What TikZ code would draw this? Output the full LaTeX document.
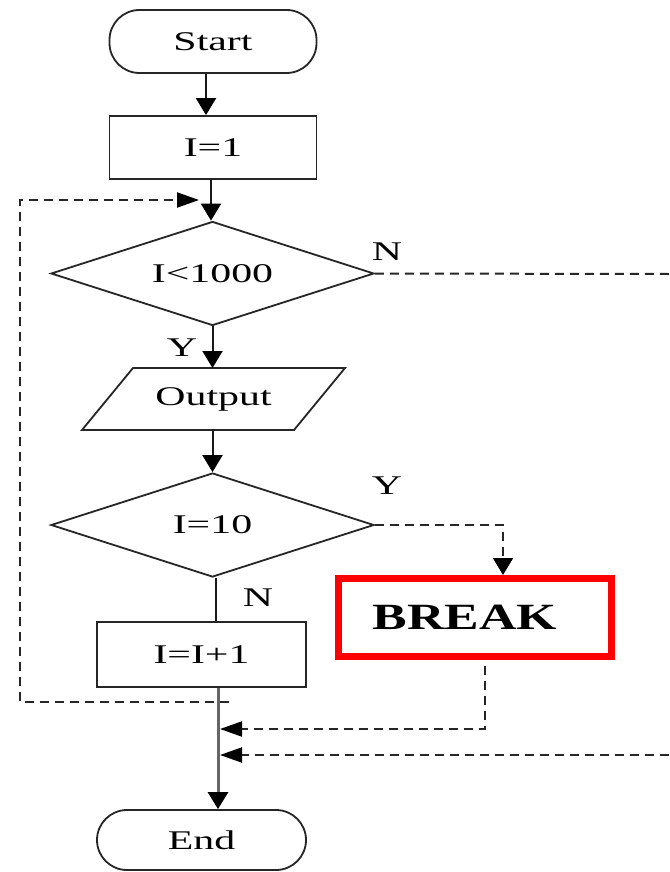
\documentclass[tikz,border=0pt]{standalone}
\usepackage{fontspec}
\setmainfont{Liberation Serif}
\usetikzlibrary{shapes.geometric,arrows.meta,calc}
\newcommand{\sx}[1]{\scalebox{1.55}[1]{#1}}
\begin{document}
\begin{tikzpicture}[x=1pt,y=-1pt,
  every node/.style={font=\fontsize{27}{27}\selectfont, text=black},
  box/.style={draw=black!85, line width=1.8pt, rectangle, minimum width=207pt, minimum height=63pt, inner sep=0pt},
  term/.style={box, rounded corners=30pt},
  dec/.style={diamond, draw=black!85, line width=1.8pt, minimum width=323pt, minimum height=104pt, inner sep=0pt, aspect=3.1},
  vtip/.style={-{Triangle[length=17pt,width=20pt,color=black]}},
  htip/.style={-{Triangle[length=22pt,width=15pt,color=black]}},
  ln/.style={line width=2pt, draw=black!90},
  dsh/.style={line width=2pt, draw=black!85, dash pattern=on 9pt off 6pt},
  lbl/.style={inner sep=0pt}]
\fill[white] (0,0) rectangle (669,872);
\useasboundingbox (0,0) rectangle (669,872);

% nodes
\node[term] (start) at (213,41.5) {\sx{Start}};
\node[box] (i1) at (213,147.5) {\sx{I=1}};
\node[dec] (d1) at (212.5,273.5) {\sx{I<1000}};
\node[rectangle, draw=none, minimum width=212pt, minimum height=62pt, inner sep=0pt, outer sep=0pt] (outp) at (213.5,399) {\sx{Output}};
\draw[draw=black!85, line width=1.8pt] ([xshift=-25.5pt]outp.south west) -- ([xshift=25.5pt]outp.north west) -- ([xshift=25.5pt]outp.north east) -- ([xshift=-25.5pt]outp.south east) -- cycle;
\node[dec] (d2) at (212.5,525) {\sx{I=10}};
\node[box, minimum width=209pt, minimum height=65pt] (incr) at (201.5,654.5) {\sx{I=I+1}};
\node[rectangle, draw=red, line width=7pt, minimum width=273pt, minimum height=78pt, inner sep=0pt,
      font=\bfseries\fontsize{37}{37}\selectfont] (brk) at (475,617.5) {\hspace*{-20pt}\scalebox{1.4}[1]{BREAK}};
\node[term, minimum width=209pt, minimum height=60pt] (end) at (201.5,840) {\sx{End}};

% labels
\node[lbl] (yl1) at (182,348) {\sx{Y}};
\node[lbl] (nl1) at (387,252) {\sx{N}};
\node[lbl] (yl2) at (387,486) {\sx{Y}};
\node[lbl] (nl2) at (258,598) {\sx{N}};

% coordinates
\coordinate (axis) at (218,0);
\coordinate (lpA) at (229,702);
\coordinate (lpL1) at (20,702);
\coordinate (lpL2) at (20,200);
\coordinate (lpB) at (199,200);
\coordinate (nR) at (669,274);
\coordinate (nR2) at (669,755);
\coordinate (nJ) at (220,755);
\coordinate (bJ) at (220,729);

% solid connectors
\draw[ln, vtip] ([xshift=-7pt]start.south) -- ([xshift=-7pt]i1.north);
\draw[ln, vtip] ([xshift=-2pt]i1.south) -- ([xshift=-2pt]i1.south |- d1.north);
\draw[ln, vtip] (d1.south) -- (d1.south |- outp.north);
\draw[ln, vtip] (d2.north |- outp.south) -- (d2.north);
\draw[ln] ([xshift=3.5pt]d2.south) -- ([xshift=3.5pt]d2.south |- incr.north);
\draw[line width=3pt, draw=black!60, vtip] (incr.south -| axis) -- (end.north -| axis);

% dashed connectors
\draw[dsh, htip] (lpA) -- (lpL1) -- (lpL2) -- (lpB);
\draw[dsh] (d1.east) -- (nR);
\draw[dsh, htip] (nR2) -- (nJ);
\draw[dsh, vtip] (d2.east) -| ([xshift=28pt]brk.north);
\draw[dsh, htip] ([xshift=10pt,yshift=-6pt]brk.south) |- (bJ);
\end{tikzpicture}
\end{document}
